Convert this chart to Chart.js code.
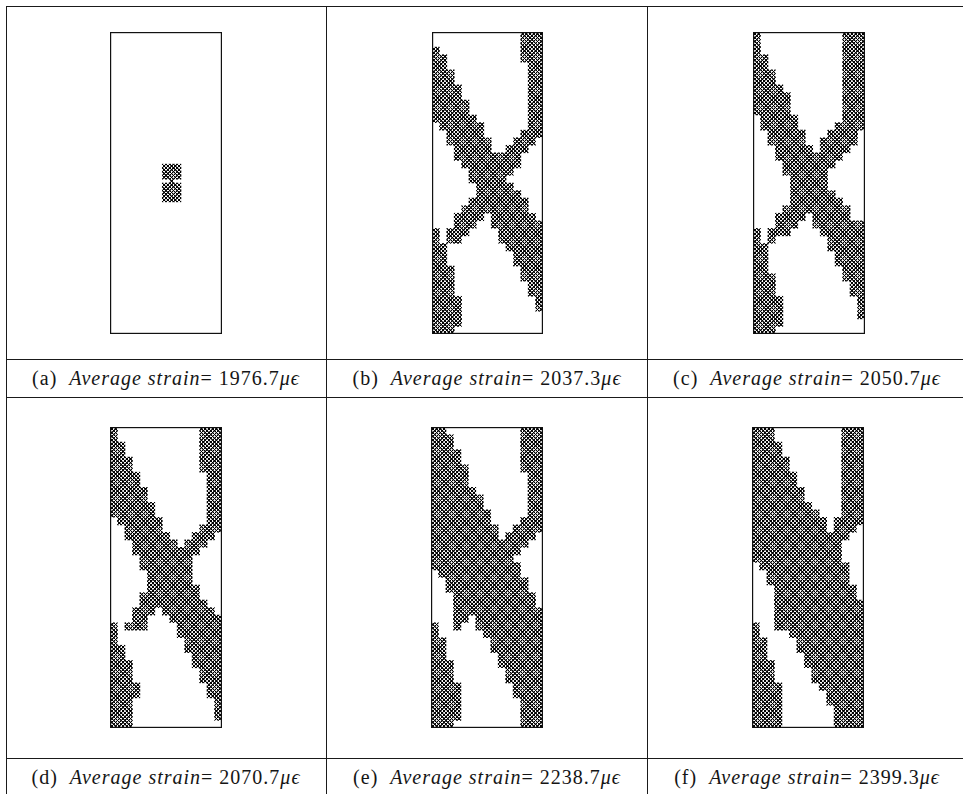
<!DOCTYPE html>
<html><head><meta charset="utf-8">
<script src="https://cdn.jsdelivr.net/npm/chart.js@4"></script>
<style>
html,body{margin:0;padding:0;background:#fff;}
body{width:963px;height:794px;position:relative;overflow:hidden;font-family:"Liberation Serif","Times New Roman","DejaVu Serif",serif;}
.hl{position:absolute;height:1.3px;background:#1a1a1a;}
.vl{position:absolute;width:1.3px;background:#1a1a1a;}
.panel{position:absolute;}
.cap{position:absolute;width:320px;height:38px;line-height:38px;text-align:center;font-family:"Liberation Serif","Times New Roman",serif;font-size:20px;letter-spacing:1px;color:#151515;white-space:nowrap;}
.cap .gap{display:inline-block;width:12px;}
.cap i{font-style:italic;}
</style></head><body>
<div class="hl" style="left:6px;top:6px;width:957px"></div>
<div class="hl" style="left:6px;top:359px;width:957px"></div>
<div class="hl" style="left:6px;top:397px;width:957px"></div>
<div class="hl" style="left:6px;top:758px;width:957px"></div>
<div class="vl" style="left:6px;top:6px;height:788px"></div>
<div class="vl" style="left:326px;top:6px;height:788px"></div>
<div class="vl" style="left:647px;top:6px;height:788px"></div>

<canvas class="panel" id="p0" width="112" height="302" style="left:110px;top:32px"></canvas>
<canvas class="panel" id="p1" width="111" height="302" style="left:432px;top:32px"></canvas>
<canvas class="panel" id="p2" width="112" height="302" style="left:753px;top:32px"></canvas>
<canvas class="panel" id="p3" width="112" height="301" style="left:110px;top:427px"></canvas>
<canvas class="panel" id="p4" width="112" height="301" style="left:431px;top:427px"></canvas>
<canvas class="panel" id="p5" width="112" height="301" style="left:752px;top:427px"></canvas>

<div class="cap" id="c0" style="left:6px;top:359px"></div>
<div class="cap" id="c1" style="left:327px;top:359px"></div>
<div class="cap" id="c2" style="left:647px;top:359px"></div>
<div class="cap" id="c3" style="left:6px;top:758px"></div>
<div class="cap" id="c4" style="left:327px;top:758px"></div>
<div class="cap" id="c5" style="left:647px;top:758px"></div>

<script>
// ---- data ----
const MESH_COLS = 30;          // finite-element mesh columns
const MESH_ROWS = 80;          // finite-element mesh rows
const panelLabels = ['(a)', '(b)', '(c)', '(d)', '(e)', '(f)'];
const avgStrain = [1976.7, 2037.3, 2050.7, 2070.7, 2238.7, 2399.3];

// (a) damaged elements: small patch at full mesh resolution, origin [col,row]
const damageAOrigin = [14, 35];
const damageA = [
  "#####","#####","#####","#####","..#..",
  "#####","#####","#####","#####","#####"
];
// (b)-(f) damaged elements, each character = 2x2 mesh elements (15 x 40)
const damageB = [
"............###","............###","#...........###","##..........###","##...........##",
"###..........##","###..........##","####.........##","####.........##","#####........##",
"#####........##","######.......##",".######......##","..#####.....###","..######...###.",
"...#####..###..","...#########...","....########...",".....######....",".....#####.....",
"......#####....","......######...",".....########..","....#########..","...####.######.",
"...###..#######","#.###....######","#.##.....######","##........#####","##.........####",
"##.........####","###.........###","###.........###","###..........##","###..........##",
"####..........#","####..........#","####...........","####...........","###............"
];
const damageC = [
"#...........###","#...........###","#...........###","##..........###","##..........###",
"###.........###","###.........###","####........###","#####.......###","#####.......###",
"#####.......###",".#####......###",".#####.....####","..#####...####.","..#####..#####.",
"...#####.####..","...#########...","....#######....","....######.....",".....#####.....",
".....#####.....",".....######....",".....#######...","....#########..","...####.#####..",
"...###..#######","#.###....######","#.#.......#####","##........#####","##.........####",
"##.........####","##..........###","###.........###","###..........##","###..........##",
"####..........#","####..........#","####..........#","####...........","###............"
];
const damageD = [
"#...........###","#...........###","##..........###","##..........###","###.........###",
"###.........###","####.........##","####.........##","#####........##","#####........##",
"######.......##","######.......##",".######......##","..#####.....###","..######...###.",
"...######.###..","...#########...","....#######....","....#######....",".....######....",
".....######....",".....#######...","....########...","....#########..","...###.#######.",
"...##...#######","#.###....######","#........######","#.........#####","##........#####",
"##.........####","###........####","###.........###","###.........###","####.........##",
"####.........##","###...........#","###...........#","###...........#","###............"
];
const damageE = [
"##..........###","###.........###","###.........###","####........###","####........###",
"#####.......###","#####........##","#####........##","######.......##","#######......##",
"#######......##","########.....##","########....###","#########..####","#########.####.",
"#############..","############...","###########....","############...",".###########...",
"..###########..","..###########..","...###########.","...###########.","...############",
"...##.#########","#..#..#########","#......########","##......#######","##......#######",
"##.......######","###......######","###.......#####","###.......#####","####.......####",
"####.......####","####........###","####........###","####........###","###.........###"
];
const damageF = [
"###.........###","###.........###","####........###","####........###","#####.......###",
"#####.......###","######......###","######......###","#######.....###","#######.....###",
"########....###","#########...###","##########.####","##########.###.","#############..",
"############...","############...","############...",".############..","..###########..",
"..###########..","...###########.","...###########.","...############","...############",
"...############","#..############","#....##########","##....#########","##....#########",
"##.....########","###....########","###.....#######","###.....#######","####.....######",
"####......#####","####......#####","####.......####","####.......####","####.......####"
];

// ---- build ----
const panelMaps = [damageA, damageB, damageC, damageD, damageE, damageF];
const panelScale = [1, 2, 2, 2, 2, 2];
const panelOrigin = [damageAOrigin, [0,0], [0,0], [0,0], [0,0], [0,0]];

function runsFromMap(map, scale, origin) {
  const rows = Array.from({length: MESH_ROWS}, () => []);
  map.forEach((line, r) => {
    let c = 0;
    while (c < line.length) {
      if (line[c] === '#') {
        let e = c;
        while (e < line.length && line[e] === '#') e++;
        for (let k = 0; k < scale; k++) {
          const mr = origin[1] + r * scale + k;
          if (mr < MESH_ROWS) rows[mr].push([origin[0] + c * scale, origin[0] + e * scale]);
        }
        c = e;
      } else c++;
    }
  });
  return rows;
}

function makeTile() {
  const T = 16;
  const c = document.createElement('canvas');
  c.width = c.height = T;
  const g = c.getContext('2d');
  g.strokeStyle = '#000';
  g.lineWidth = 4.2;
  g.beginPath();
  for (const d of [-T, 0, T]) {
    g.moveTo(d, 0); g.lineTo(d + T, T);
    g.moveTo(d + T, 0); g.lineTo(d, T);
  }
  g.stroke();
  return c;
}
const tile = makeTile();

const outlinePlugin = {
  id: 'outline',
  afterDraw(chart) {
    const {ctx, chartArea: a} = chart;
    ctx.save();
    ctx.strokeStyle = '#111';
    ctx.lineWidth = 1.2;
    ctx.strokeRect(a.left + 0.6, a.top + 0.6, a.right - a.left - 1.2, a.bottom - a.top - 1.2);
    ctx.restore();
  }
};

const rowLabels = Array.from({length: MESH_ROWS}, (_, i) => String(i));

panelMaps.forEach((map, i) => {
  const canvas = document.getElementById('p' + i);
  const ctx = canvas.getContext('2d');
  const pattern = ctx.createPattern(tile, 'repeat');
  const rows = runsFromMap(map, panelScale[i], panelOrigin[i]);
  const maxRuns = Math.max(1, ...rows.map(r => r.length));
  const datasets = [];
  for (let k = 0; k < maxRuns; k++) {
    datasets.push({
      data: rows.map(r => r[k] || null),
      backgroundColor: pattern,
      borderWidth: 0,
      barPercentage: 1,
      categoryPercentage: 1,
      grouped: false,
      inflateAmount: 0.3
    });
  }
  const hatchPlugin = {
    id: 'hatch',
    beforeDatasetsDraw(chart) {
      const xs = chart.scales.x;
      const a = chart.chartArea;
      const cw = xs.getPixelForValue(1) - xs.getPixelForValue(0);
      const ch = (a.bottom - a.top) / MESH_ROWS;
      pattern.setTransform(new DOMMatrix([cw / 16, 0, 0, ch / 16, xs.getPixelForValue(0), a.top]));
    }
  };
  new Chart(ctx, {
    type: 'bar',
    data: {labels: rowLabels, datasets},
    options: {
      indexAxis: 'y',
      responsive: false,
      animation: false,
      layout: {padding: 0},
      plugins: {legend: {display: false}, tooltip: {enabled: false}},
      scales: {
        x: {type: 'linear', min: 0, max: MESH_COLS, display: false},
        y: {type: 'category', display: false}
      }
    },
    plugins: [hatchPlugin, outlinePlugin]
  });

  document.getElementById('c' + i).innerHTML =
    panelLabels[i] + '<span class="gap"></span><i>Average strain</i>= ' +
    avgStrain[i].toFixed(1) + '<i>μϵ</i>';
});
</script>
</body></html>
